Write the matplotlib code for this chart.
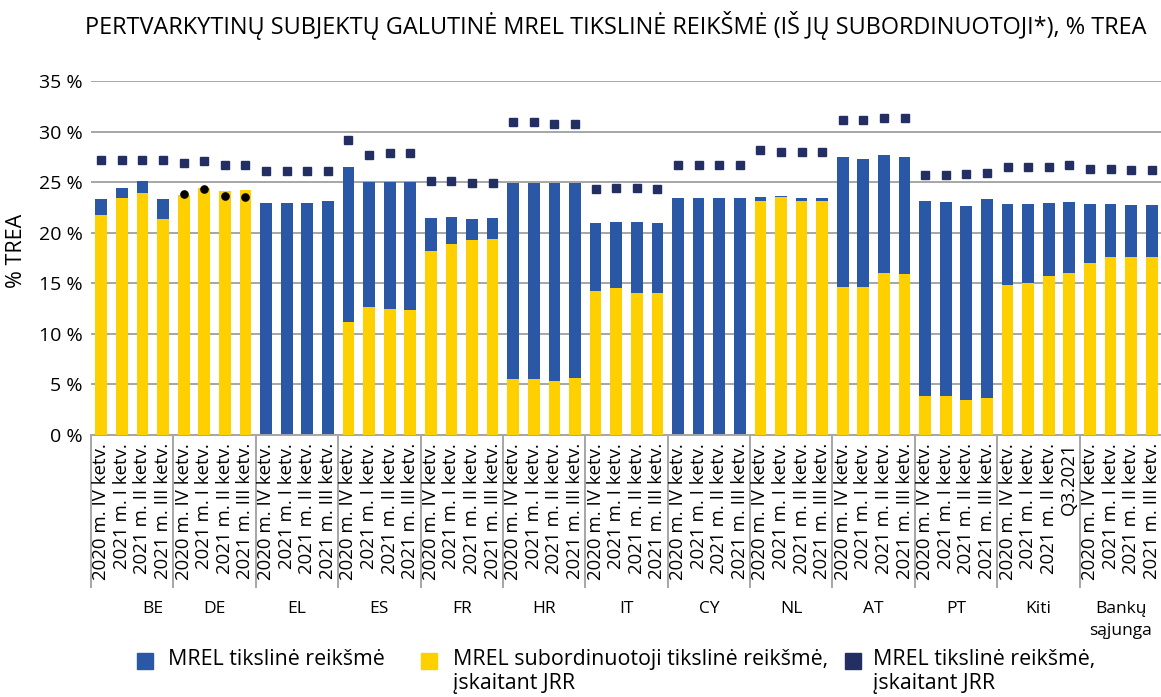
import numpy as np
import matplotlib.pyplot as plt
from matplotlib.patches import Rectangle

plt.rcParams['font.family'] = ['Open Sans', 'DejaVu Sans']

groups = ['BE', 'DE', 'EL', 'ES', 'FR', 'HR', 'IT', 'CY', 'NL', 'AT', 'PT', 'Kiti', 'Bankų\nsąjunga']
quarters = ['2020 m. IV ketv.', '2021 m. I ketv.', '2021 m. II ketv.', '2021 m. III ketv.']
kiti_quarters = ['2020 m. IV ketv.', '2021 m. I ketv.', '2021 m. II ketv.', 'Q3.2021']

# MREL tikslinė reikšmė (total), % TREA
mrel = [23.3, 24.4, 25.1, 23.3,
        23.7, 24.4, 24.1, 24.2,
        22.9, 22.9, 22.9, 23.1,
        26.5, 25.0, 25.0, 25.0,
        21.5, 21.6, 21.4, 21.5,
        24.9, 24.9, 24.9, 24.9,
        21.0, 21.1, 21.1, 21.0,
        23.4, 23.4, 23.4, 23.4,
        23.5, 23.6, 23.4, 23.4,
        27.5, 27.3, 27.7, 27.5,
        23.1, 23.0, 22.6, 23.3,
        22.8, 22.8, 22.9, 23.0,
        22.8, 22.8, 22.7, 22.7]
# MREL subordinuotoji tikslinė reikšmė, įskaitant JRR
sub = [21.8, 23.4, 23.9, 21.4,
       23.7, 24.4, 24.1, 24.2,
       0, 0, 0, 0,
       11.2, 12.7, 12.5, 12.4,
       18.2, 18.9, 19.3, 19.4,
       5.5, 5.5, 5.3, 5.6,
       14.2, 14.5, 14.0, 14.0,
       0, 0, 0, 0,
       23.1, 23.5, 23.1, 23.1,
       14.6, 14.6, 16.0, 15.9,
       3.9, 3.9, 3.5, 3.7,
       14.8, 15.0, 15.7, 16.0,
       17.0, 17.6, 17.6, 17.6]
# MREL tikslinė reikšmė, įskaitant JRR
jrr = [27.2, 27.2, 27.2, 27.2,
       26.9, 27.1, 26.7, 26.7,
       26.1, 26.1, 26.1, 26.1,
       29.2, 27.7, 27.9, 27.9,
       25.1, 25.1, 24.9, 24.9,
       30.9, 30.9, 30.7, 30.7,
       24.3, 24.4, 24.4, 24.3,
       26.7, 26.7, 26.7, 26.7,
       28.2, 28.0, 28.0, 28.0,
       31.1, 31.1, 31.3, 31.3,
       25.7, 25.7, 25.8, 25.9,
       26.5, 26.5, 26.5, 26.7,
       26.3, 26.3, 26.2, 26.2]
# DE extra points (black dots)
de_dots = [23.8, 24.3, 23.6, 23.5]

BLUE = '#2A58A6'
YELLOW = '#FFD000'
NAVY = '#232F63'
GRID = '#A6A6A6'

n = len(mrel)
x = np.arange(n)

fig = plt.figure(figsize=(11.61, 6.97), dpi=100)
ax = fig.add_axes([91 / 1161, 1 - 435 / 697, 1071 / 1161, 354 / 697])

ax.bar(x, mrel, width=0.57, color=BLUE, zorder=2)
ax.bar(x, sub, width=0.57, color=YELLOW, zorder=3)
ax.plot(x, jrr, ls='none', marker='s', ms=5.6, color=NAVY, zorder=4)
ax.plot(x[4:8], de_dots, ls='none', marker='o', ms=5.2, color='black', zorder=5)

ax.set_xlim(-0.5, n - 0.5)
ax.set_ylim(0, 35)
ax.set_yticks(np.arange(0, 36, 5))
ax.set_yticklabels([f'{v} %' for v in range(0, 36, 5)], fontsize=14)
ax.yaxis.grid(True, color=GRID, lw=1.4, zorder=0)
ax.set_axisbelow(True)
for s in ['top', 'right', 'left']:
    ax.spines[s].set_visible(False)
ax.spines['bottom'].set_color(GRID)
ax.spines['bottom'].set_linewidth(1.4)
ax.tick_params(axis='y', length=0, pad=6)
ax.tick_params(axis='x', length=0)
ax.set_xticks([])
ax.set_ylabel('% TREA', fontsize=15.5)
ax.yaxis.set_label_coords(-0.06, 0.52)

# quarter labels
tr = ax.get_xaxis_transform()
for g, name in enumerate(groups):
    labs = kiti_quarters if name == 'Kiti' else quarters
    for q, lab in enumerate(labs):
        ax.text(g * 4 + q, -0.022, lab, transform=tr, rotation=90,
                ha='center', va='top', fontsize=13.4)
    gx = g * 4 + 1.5
    if name == 'BE':
        gx = 2.5
    ax.text(gx, -0.47, name, transform=tr, ha='center', va='top',
            fontsize=12.5, linespacing=1.5)

# group separators
for b in range(len(groups) + 1):
    ax.plot([b * 4 - 0.5] * 2, [0, -0.43], transform=tr, color=GRID,
            lw=1.4, clip_on=False)

fig.text(616 / 1161, 1 - 25 / 697,
         'PERTVARKYTINŲ SUBJEKTŲ GALUTINĖ MREL TIKSLINĖ REIKŠMĖ (IŠ JŲ SUBORDINUOTOJI*), % TREA',
         ha='center', va='center', fontsize=16.9)

# legend
leg = [(137, 168, BLUE, 'MREL tikslinė reikšmė'),
       (421, 453, YELLOW, 'MREL subordinuotoji tikslinė reikšmė,\nįskaitant JRR'),
       (845, 873, NAVY, 'MREL tikslinė reikšmė,\nįskaitant JRR')]
for sx, tx, col, lab in leg:
    fig.patches.append(Rectangle((sx / 1161, 1 - 669 / 697), 16 / 1161, 16 / 697,
                                 transform=fig.transFigure, color=col))
    fig.text(tx / 1161, 1 - 649 / 697, lab, ha='left', va='top',
             fontsize=15.4, linespacing=1.2)

fig.savefig('out.png', dpi=100)
